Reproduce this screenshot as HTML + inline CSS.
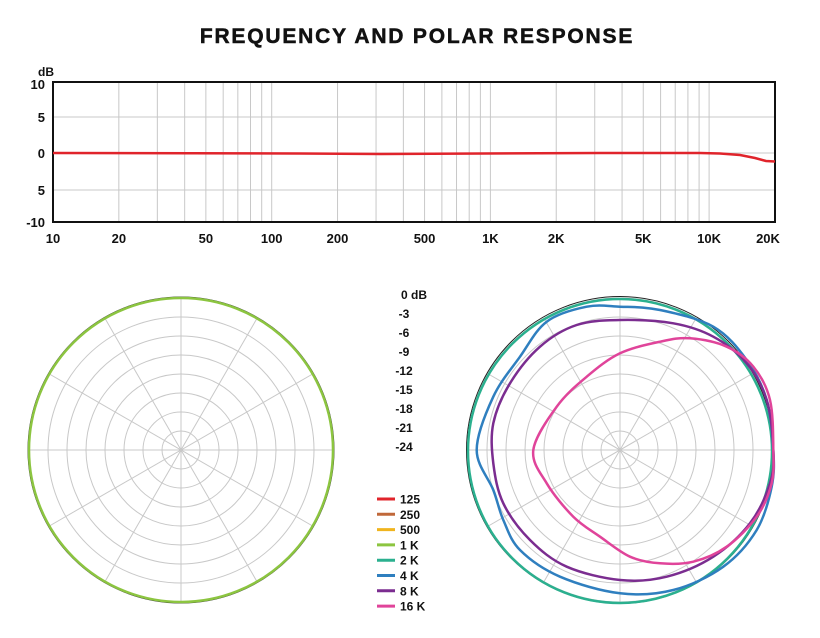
<!DOCTYPE html>
<html><head><meta charset="utf-8"><style>
body{margin:0;background:#fff;width:820px;height:638px;overflow:hidden}
svg{display:block}
text{font-family:"Liberation Sans",sans-serif;font-weight:bold;fill:#111}
</style></head><body>
<svg id="s" width="820" height="638" viewBox="0 0 820 638" xmlns="http://www.w3.org/2000/svg">
<text x="417" y="43" text-anchor="middle" font-size="21" letter-spacing="1.8" stroke="#111" stroke-width="0.5">FREQUENCY AND POLAR RESPONSE</text>
<text x="38" y="76" font-size="12">dB</text>
<g font-size="13" text-anchor="end">
<text x="45" y="89">10</text><text x="45" y="122">5</text><text x="45" y="158">0</text><text x="45" y="195">5</text><text x="45" y="227">-10</text>
</g>
<g id="grid" stroke="#c8c8c8" stroke-width="1"></g>
<rect x="53" y="82" width="722" height="140" fill="none" stroke="#111" stroke-width="2"/>
<g id="xl" font-size="13" text-anchor="middle"></g>
<path d="M53 153 L300 153.5 L380 154 L600 153 L700 153 L720 153.5 L740 155 L755 158 L766 161 L775 161.5" fill="none" stroke="#e0242b" stroke-width="2.5"/>
<g id="p1"></g><g id="p2"></g>
<g font-size="12" text-anchor="middle">
<text x="414" y="299">0 dB</text><text x="404" y="318">-3</text><text x="404" y="337">-6</text><text x="404" y="356">-9</text><text x="404" y="375">-12</text><text x="404" y="394">-15</text><text x="404" y="413">-18</text><text x="404" y="432">-21</text><text x="404" y="451">-24</text>
</g>
<g id="leg" font-size="12"></g>
</svg>
<script>
const NS="http://www.w3.org/2000/svg";
function el(p,t,a){const e=document.createElementNS(NS,t);for(const k in a)e.setAttribute(k,a[k]);p.appendChild(e);return e;}
const X=f=>53+218.7*Math.log10(f/10);
const g=document.getElementById('grid');
for(const y of [117,153,190])el(g,'line',{x1:53,x2:775,y1:y,y2:y});
for(let d=10;d<=10000;d*=10)for(let m=1;m<=9;m++){const f=d*m;if(f>10&&f<20000)el(g,'line',{x1:X(f),x2:X(f),y1:82,y2:222});}
const xl=document.getElementById('xl');
[[10,'10'],[20,'20'],[50,'50'],[100,'100'],[200,'200'],[500,'500'],[1000,'1K'],[2000,'2K'],[5000,'5K'],[10000,'10K'],[20000,'20K']].forEach(([f,t])=>{const e=el(xl,'text',{x:Math.min(X(f),768),y:243});e.textContent=t;});
function polar(id,cx,cy){const p=document.getElementById(id);
for(let i=1;i<=8;i++)el(p,'circle',{cx,cy,r:19*i,fill:'none',stroke:'#c8c8c8'});
for(let a=0;a<180;a+=30){const r=a*Math.PI/180;el(p,'line',{x1:cx-152*Math.cos(r),y1:cy-152*Math.sin(r),x2:cx+152*Math.cos(r),y2:cy+152*Math.sin(r),stroke:'#c8c8c8'});}
return p;}
const p1=polar('p1',181,450);
el(p1,'circle',{cx:181,cy:450,r:153,fill:'none',stroke:'#333',"stroke-width":1});
el(p1,'circle',{cx:181,cy:450,r:152,fill:'none',stroke:'#8cc540',"stroke-width":2.5});
const p2=polar('p2',620,450);
el(p2,'circle',{cx:620,cy:450,r:153.5,fill:'none',stroke:'#222',"stroke-width":1});
el(p2,'circle',{cx:620,cy:451,r:152,fill:'none',stroke:'#2bb08f',"stroke-width":2.5});
function curve(pts,c){const P=pts.map(q=>[q[0]/3+460,q[1]/3+290]);const n=P.length;let d='M'+P[0][0].toFixed(1)+' '+P[0][1].toFixed(1);
for(let i=0;i<n;i++){const p0=P[(i-1+n)%n],p1=P[i],p2=P[(i+1)%n],p3=P[(i+2)%n];
const c1=[p1[0]+(p2[0]-p0[0])/6,p1[1]+(p2[1]-p0[1])/6],c2=[p2[0]-(p3[0]-p1[0])/6,p2[1]-(p3[1]-p1[1])/6];
d+=' C'+c1.map(v=>v.toFixed(1)).join(' ')+' '+c2.map(v=>v.toFixed(1)).join(' ')+' '+p2.map(v=>v.toFixed(1)).join(' ');}
el(p2,'path',{d,fill:'none',stroke:c,"stroke-width":2.5,"stroke-linejoin":"round"});}
curve([[940,480],[920,330],[860,210],[760,110],[600,60],[480,50],[380,50],[260,95],[180,200],[100,320],[50,480],[100,600],[130,690],[180,780],[300,860],[480,910],[640,900],[790,830],[890,720],[935,590]],'#2f7fbf');
curve([[940,480],[920,330],[860,220],[760,140],[640,100],[480,90],[350,105],[240,170],[150,280],[100,400],[100,520],[130,640],[210,750],[320,830],[480,870],[620,860],[760,800],[870,700],[930,580]],'#7b2d90');
curve([[940,480],[930,330],[880,230],[800,170],[690,145],[600,155],[480,190],[380,260],[290,350],[220,480],[260,580],[340,680],[420,740],[510,800],[600,820],[700,815],[800,770],[890,680],[935,580]],'#e0449a');
const leg=document.getElementById('leg');
[['125','#e0242b'],['250','#c0683a'],['500','#f0b41e'],['1 K','#8cc540'],['2 K','#2bb08f'],['4 K','#2f7fbf'],['8 K','#7b2d90'],['16 K','#e0449a']].forEach(([t,c],i)=>{const y=499+15.3*i;el(leg,'line',{x1:377,x2:395,y1:y,y2:y,stroke:c,"stroke-width":3});const e=el(leg,'text',{x:400,y:y+4.5});e.textContent=t;});
</script>
</body></html>
